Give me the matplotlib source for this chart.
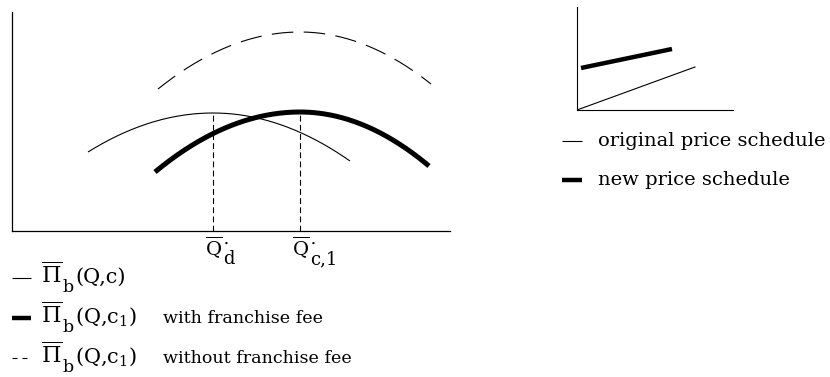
import numpy as np
import matplotlib
matplotlib.use('Agg')
import matplotlib.pyplot as plt

plt.rcParams['font.family'] = 'DejaVu Serif'
plt.rcParams['mathtext.fontset'] = 'dejavuserif'
plt.rcParams['lines.scale_dashes'] = False

# profit curves: (left end Q, left end value), (peak Q, peak value), (right end Q, right end value)
q_ends_orig = [7.6, 20.1, 33.8]
pi_orig = [7.9, 11.8, 7.0]
q_ends_fee = [14.3, 28.8, 41.7]
pi_fee = [5.9, 11.9, 6.5]
q_ends_nofee = [14.6, 28.8, 41.9]
pi_nofee = [14.2, 19.9, 14.7]

# optimal quantities and their subscripts
q_star = [20.1, 28.8]
q_star_subs = ['d', 'c,1']

# price schedules (quantity, price)
sched_orig_q = [0.0, 11.8]
sched_orig_p = [0.0, 4.3]
sched_new_q = [0.4, 9.5]
sched_new_p = [4.2, 6.1]

legend_args = ['(Q,c)', '(Q,c$_1$)', '(Q,c$_1$)']
legend_note = ['', 'with franchise fee', 'without franchise fee']
legend_sched = ['original price schedule', 'new price schedule']


def arc(qs, vals, n=120):
    # quadratic on each side of the peak so both end points are met
    q0, qp, q1 = qs
    v0, vp, v1 = vals
    left = np.linspace(q0, qp, n)
    right = np.linspace(qp, q1, n)
    yl = vp - (vp - v0) * ((left - qp) / (q0 - qp)) ** 2
    yr = vp - (vp - v1) * ((right - qp) / (q1 - qp)) ** 2
    return np.concatenate([left, right]), np.concatenate([yl, yr])


W, H = 830, 377
fig = plt.figure(figsize=(W / 100, H / 100), dpi=100)

# main profit diagram
ax = fig.add_axes([12 / W, (H - 231) / H, 438 / W, 219 / H])
ax.set_xlim(0, 43.8)
ax.set_ylim(0, 21.9)
for s in ['top', 'right']:
    ax.spines[s].set_visible(False)
for s in ['left', 'bottom']:
    ax.spines[s].set_linewidth(0.9)
ax.set_xticks([])
ax.set_yticks([])

x, y = arc(q_ends_orig, pi_orig)
ax.plot(x, y, color='black', lw=0.8, solid_capstyle='butt')
x, y = arc(q_ends_fee, pi_fee)
ax.plot(x, y, color='black', lw=3.6, solid_capstyle='butt')
x, y = arc(q_ends_nofee, pi_nofee)
ax.plot(x, y, color='black', lw=0.8, linestyle=(0, (15.5, 7.5)))

peaks = [pi_orig[1], pi_fee[1]]
for q, top, sub in zip(q_star, peaks, q_star_subs):
    ax.plot([q, q], [0, top], color='black', lw=0.8, linestyle=(0, (4.2, 2.4)))
    # Q-bar with a dot and a full-size lowered subscript
    ax.annotate(r'$\overline{\mathrm{Q}}$', xy=(q, 0), xytext=(1, -25),
                textcoords='offset pixels', ha='center', va='baseline', fontsize=14)
    ax.annotate('•', xy=(q, 0), xytext=(13, -15),
                textcoords='offset pixels', ha='center', va='baseline', fontsize=6)
    ax.annotate(sub, xy=(q, 0), xytext=(10, -33),
                textcoords='offset pixels', ha='left', va='baseline', fontsize=13)

# price schedule inset
ax2 = fig.add_axes([577 / W, (H - 110) / H, 156 / W, 103 / H])
ax2.set_xlim(0, 15.6)
ax2.set_ylim(0, 10.3)
for s in ['top', 'right']:
    ax2.spines[s].set_visible(False)
for s in ['left', 'bottom']:
    ax2.spines[s].set_linewidth(0.8)
ax2.set_xticks([])
ax2.set_yticks([])
ax2.plot(sched_orig_q, sched_orig_p, color='black', lw=0.8)
ax2.plot(sched_new_q, sched_new_p, color='black', lw=3.2, solid_capstyle='butt')

# legends, drawn in pixel space
lay = fig.add_axes([0, 0, 1, 1])
lay.set_xlim(0, W)
lay.set_ylim(H, 0)
lay.axis('off')

key_styles = [dict(lw=0.8), dict(lw=3.2), dict(lw=0.8, linestyle=(0, (3.6, 3.6)))]
for i, (arg, note, st) in enumerate(zip(legend_args, legend_note, key_styles)):
    yk = 278 + 40 * i
    base = yk + 5
    lay.plot([12, 31], [yk, yk], color='black', solid_capstyle='butt', **st)
    lay.text(41, base, r'$\overline{\Pi}$', fontsize=16, va='baseline', ha='left')
    lay.text(62, base + 9, 'b', fontsize=12.5, va='baseline', ha='left')
    lay.text(75, base, arg, fontsize=15, va='baseline', ha='left')
    if note:
        lay.text(163, base, note, fontsize=12.6, va='baseline', ha='left')

for i, (lab, lw) in enumerate(zip(legend_sched, [0.8, 3.2])):
    yk = 141 + 39 * i
    lay.plot([562, 582], [yk, yk], color='black', lw=lw, solid_capstyle='butt')
    lay.text(598, yk + 5, lab, fontsize=14, va='baseline', ha='left')

fig.savefig('out.png', dpi=100)
